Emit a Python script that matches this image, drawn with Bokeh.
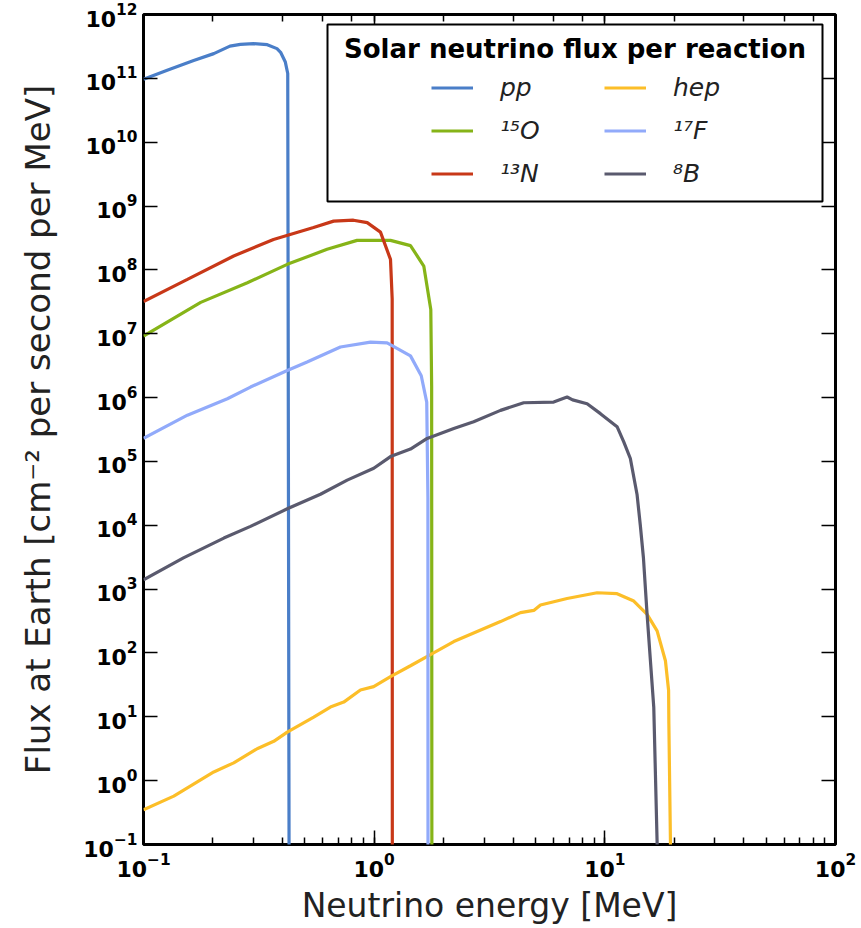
from bokeh.plotting import figure
from bokeh.models import (Range1d, LogAxis, FixedTicker, LogTicker, Legend, LegendItem,
                          BoxAnnotation, Label, CustomJSTickFormatter)
from bokeh.embed import file_html
from bokeh.resources import INLINE

# ---------------- data ----------------
pp_E = [0.1, 0.1267, 0.165, 0.2017, 0.237, 0.263, 0.300, 0.344, 0.379, 0.393, 0.412, 0.422, 0.4285]
pp_F = [9.7e10, 1.34e11, 1.9e11, 2.44e11, 3.2e11, 3.4e11, 3.5e11, 3.37e11, 2.92e11, 2.56e11, 1.8e11, 1.19e11, 1e-3]

o15_E = [0.1, 0.177, 0.282, 0.420, 0.625, 0.843, 1.177, 1.437, 1.641, 1.76, 1.775, 1.78]
o15_F = [9.2e6, 3.1e7, 6.3e7, 1.22e8, 2.1e8, 2.9e8, 2.9e8, 2.4e8, 1.15e8, 2.4e7, 1.5e6, 1e-3]

n13_E = [0.1, 0.155, 0.246, 0.366, 0.546, 0.667, 0.813, 0.933, 1.065, 1.177, 1.197, 1.199]
n13_F = [3.2e7, 7.1e7, 1.65e8, 3.0e8, 4.6e8, 5.8e8, 6.0e8, 5.5e8, 3.9e8, 1.46e8, 3.5e7, 1e-3]

hep_E = [0.1, 0.1353, 0.2017, 0.2462, 0.311, 0.367, 0.420, 0.547, 0.646, 0.738, 0.872, 0.995,
         1.177, 1.437, 1.754, 2.214, 3.53, 4.31, 4.92, 5.26, 6.86, 9.26, 11.3, 13.35, 15.25,
         16.85, 18.31, 18.9, 18.95, 19.25, 19.3]
hep_F = [0.35, 0.573, 1.37, 1.90, 3.16, 4.13, 5.77, 9.9, 14.2, 17.0, 26.3, 29.7,
         42.6, 63, 94, 151, 310, 428, 464, 564, 714, 877, 847, 651, 403,
         222, 75.5, 25.8, 7.8, 0.11, 1e-3]

f17_E = [0.1, 0.155, 0.231, 0.291, 0.420, 0.512, 0.714, 0.964, 1.138, 1.437, 1.60, 1.69, 1.71, 1.712]
f17_F = [2.3e5, 5.3e5, 9.6e5, 1.46e6, 2.65e6, 3.6e6, 6.2e6, 7.4e6, 7.2e6, 4.5e6, 2.2e6, 8.5e5, 2.7e4, 1e-3]

b8_E = [0.1, 0.149, 0.223, 0.291, 0.420, 0.585, 0.764, 0.996, 1.177, 1.437, 1.697, 2.214, 2.70,
        3.53, 4.45, 6.0, 6.86, 7.25, 8.38, 9.57, 11.3, 12.08, 12.9, 13.8, 14.25, 14.7, 15.25,
        16.3, 16.85, 17.0]
b8_F = [1.40e3, 3.08e3, 6.3e3, 9.6e3, 1.81e4, 3.06e4, 5.1e4, 7.8e4, 1.19e5, 1.56e5, 2.29e5, 3.27e5, 4.17e5,
        6.3e5, 8.3e5, 8.5e5, 1.02e6, 9.2e5, 8.0e5, 5.6e5, 3.5e5, 2.03e5, 1.11e5, 3.0e4, 1.0e4, 3.1e3, 4.0e2,
        14, 0.11, 1e-3]

series_names = ["pp", "¹⁵O", "¹³N", "hep", "¹⁷F", "⁸B"]
series_colors = ["#4a7ec8", "#86b418", "#c83818", "#fcbe28", "#91aafa", "#5a5a6e"]

y_ticks = [10.0 ** k for k in range(-1, 13)]

# ---------------- figure ----------------
p = figure(width=860, height=927, x_axis_type="log", y_axis_type="log",
           x_range=Range1d(0.1, 100), y_range=Range1d(0.1, 1e12),
           output_backend="svg", toolbar_location=None,
           min_border_left=143, min_border_right=25, min_border_top=14, min_border_bottom=79)
p.grid.visible = False
p.background_fill_color = "white"
p.border_fill_color = "white"
p.outline_line_color = "black"
p.outline_line_width = 3

xa = p.xaxis[0]
ya = p.yaxis[0]
ya.ticker = FixedTicker(ticks=y_ticks, minor_ticks=[])
xa.axis_label = "Neutrino energy [MeV]"
ya.axis_label = "Flux at Earth [cm⁻² per second per MeV]"
for ax in (xa, ya):
    ax.axis_line_color = None
    ax.major_tick_in = 14
    ax.major_tick_out = 0
    ax.minor_tick_in = 7
    ax.minor_tick_out = 0
    ax.major_tick_line_color = "black"
    ax.minor_tick_line_color = "black"
    ax.major_tick_line_width = 1.5
    ax.minor_tick_line_width = 1.5
    ax.major_label_text_font = "DejaVu Sans"
    ax.major_label_text_font_style = "bold"
    ax.major_label_text_font_size = "22px"
    ax.major_label_text_color = "black"
    ax.axis_label_text_font = "DejaVu Sans"
    ax.axis_label_text_font_style = "normal"
    ax.axis_label_text_color = "#222222"
xa.axis_label_text_font_size = "33px"
ya.axis_label_text_font_size = "34px"
ya.major_label_standoff = 6
ya.axis_label_standoff = 22
xa.major_label_standoff = 8
xa.axis_label_standoff = 6

right_ax = LogAxis(ticker=FixedTicker(ticks=y_ticks, minor_ticks=[]),
                   formatter=CustomJSTickFormatter(code="return ''"))
top_ax = LogAxis(ticker=LogTicker(), formatter=CustomJSTickFormatter(code="return ''"))
for ax in (right_ax, top_ax):
    ax.axis_line_color = None
    ax.major_tick_in = 14
    ax.major_tick_out = 0
    ax.minor_tick_in = 7
    ax.minor_tick_out = 0
    ax.major_tick_line_width = 1.5
    ax.minor_tick_line_width = 1.5
    ax.major_label_standoff = 0
    ax.major_label_text_font_size = "1px"
p.add_layout(right_ax, "right")
p.add_layout(top_ax, "above")

# ---------------- lines ----------------
data = [(pp_E, pp_F), (o15_E, o15_F), (n13_E, n13_F), (hep_E, hep_F), (f17_E, f17_F), (b8_E, b8_F)]
renderers = []
for (xs, ys), c in zip(data, series_colors):
    renderers.append(p.line(xs, ys, line_color=c, line_width=3.2))

# ---------------- legend ----------------
box = BoxAnnotation(left=184, right=679, bottom=643, top=820,
                    left_units="screen", right_units="screen", top_units="screen", bottom_units="screen",
                    fill_color="white", fill_alpha=1.0, line_color="black", line_width=2, line_alpha=1.0)
p.add_layout(box)
title = Label(x=431.5, y=796, x_units="screen", y_units="screen",
              text="Solar neutrino flux per reaction", text_font="DejaVu Sans",
              text_font_style="bold", text_font_size="26px", text_align="center",
              text_baseline="middle", text_color="black")
p.add_layout(title)

items = [LegendItem(label=n, renderers=[r]) for n, r in zip(series_names, renderers)]
legend = Legend(items=items, location=(288, 651), orientation="vertical", ncols=2,
                glyph_width=42, glyph_height=39, label_height=39, label_width=100,
                label_standoff=27, spacing=4, padding=0, margin=0,
                border_line_color=None, background_fill_alpha=0,
                label_text_font="DejaVu Sans", label_text_font_style="italic",
                label_text_font_size="25px", label_text_color="#222222")
p.add_layout(legend)

open("out.html", "w").write(file_html(p, INLINE))
